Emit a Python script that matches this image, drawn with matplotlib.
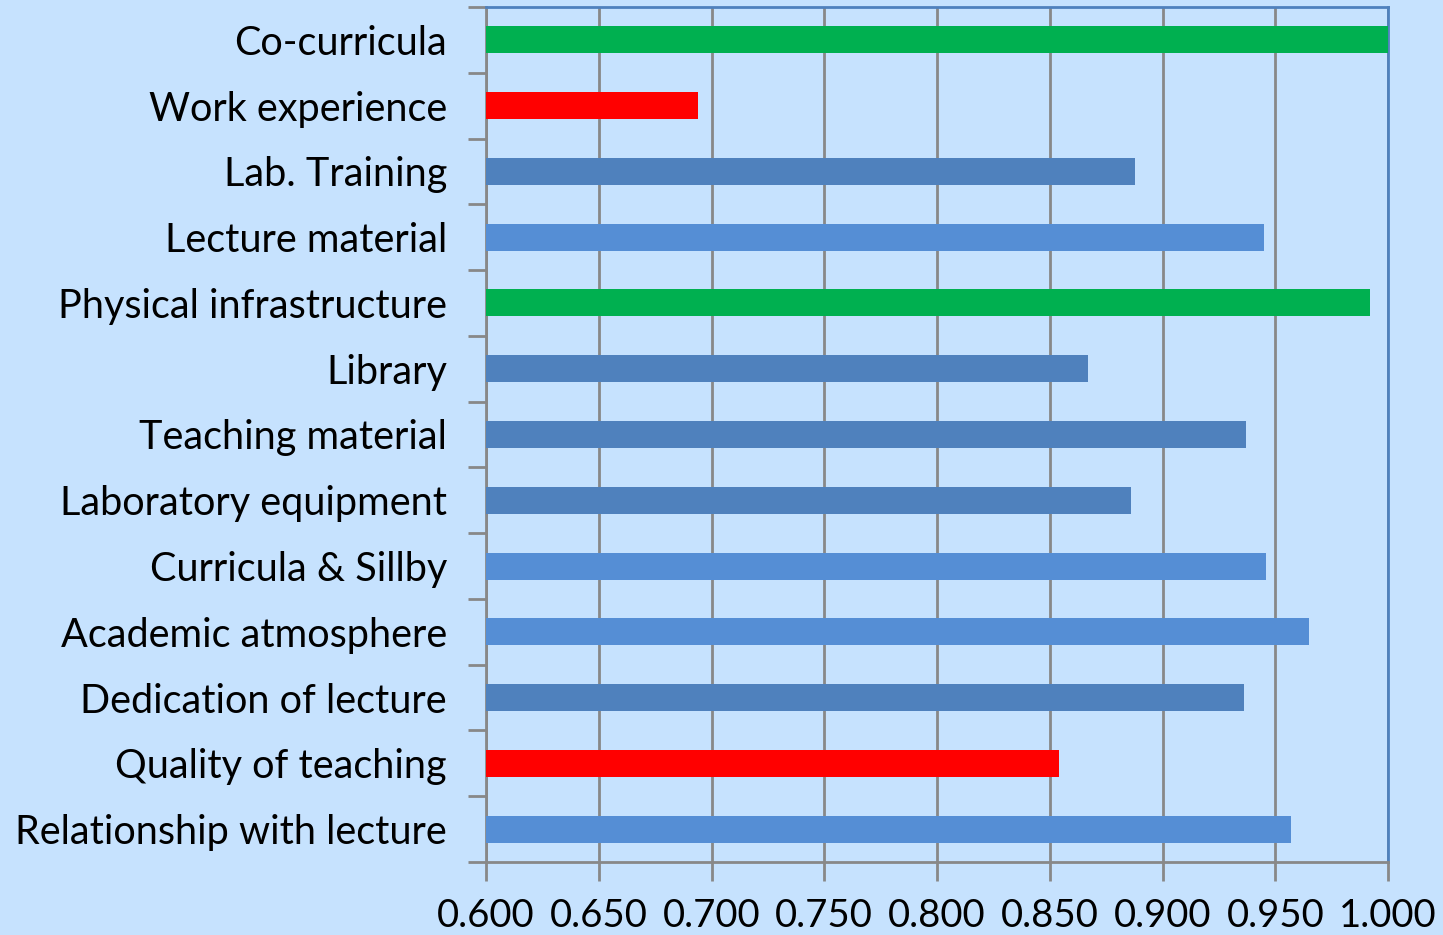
import matplotlib
matplotlib.use("Agg")
import matplotlib.pyplot as plt
import numpy as np

# categories listed bottom to top
categories = ["Relationship with lecture", "Quality of teaching", "Dedication of lecture",
              "Academic atmosphere", "Curricula & Sillby", "Laboratory equipment",
              "Teaching material", "Library", "Physical infrastructure",
              "Lecture material", "Lab. Training", "Work experience", "Co-curricula"]
values = [0.957, 0.854, 0.936, 0.965, 0.946, 0.886, 0.937, 0.867, 0.992,
          0.945, 0.888, 0.694, 1.000]
colors = ["#558ED5", "#FF0000", "#4F81BD", "#558ED5", "#558ED5", "#4F81BD",
          "#4F81BD", "#4F81BD", "#00B050", "#558ED5", "#4F81BD", "#FF0000", "#00B050"]
xticks = [0.600, 0.650, 0.700, 0.750, 0.800, 0.850, 0.900, 0.950, 1.000]

bg = "#C6E2FE"
plt.rcParams['font.family'] = ['Lato', 'DejaVu Sans']

fig = plt.figure(figsize=(14.43, 9.35), dpi=100, facecolor=bg)
ax = fig.add_axes([486/1443, 1-862/935, 902/1443, 855/935])
ax.set_facecolor(bg)

y = np.arange(len(categories))
ax.barh(y, [v - 0.6 for v in values], left=0.6, height=0.41, color=colors, zorder=3)

ax.set_xlim(0.6, 1.0)
ax.set_ylim(-0.5, len(categories) - 0.5)
ax.set_xticks(xticks)
ax.set_xticklabels([f"{t:.3f}" for t in xticks], fontsize=27.5)
ax.set_yticks(y)
ax.set_yticklabels(categories, fontsize=28.5)
ax.set_yticks(np.arange(-0.5, len(categories)), minor=True)

ax.tick_params(axis='y', which='major', length=0, pad=28)
ax.tick_params(axis='y', which='minor', length=13, width=2, color="#888888")
ax.tick_params(axis='x', length=14, width=2, color="#888888", pad=12)

ax.grid(axis='x', color="#888888", linewidth=2, zorder=1)
ax.set_axisbelow(True)

for side in ['left', 'bottom']:
    ax.spines[side].set_color("#888888")
    ax.spines[side].set_linewidth(2)
for side in ['top', 'right']:
    ax.spines[side].set_color("#4F81BD")
    ax.spines[side].set_linewidth(2)

fig.savefig("out.png", dpi=100, facecolor=bg)
